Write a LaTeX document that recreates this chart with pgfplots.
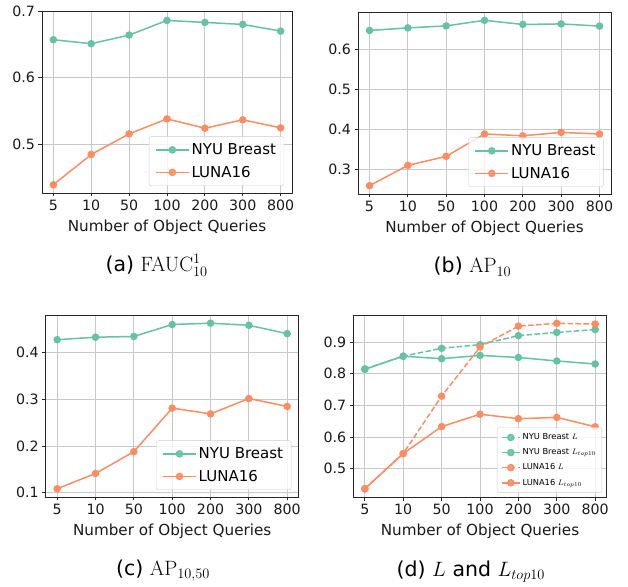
\documentclass[border=0pt]{standalone}
\usepackage[no-math]{fontspec}
\setmainfont{DejaVu Sans}
\usepackage{pgfplots}
\pgfplotsset{compat=1.18}
\definecolor{cg}{HTML}{66C2A5}
\definecolor{co}{HTML}{FC8D62}
\definecolor{gridgray}{HTML}{C8C8C8}
\pgfplotsset{
  panel/.style={
    scale only axis, height=182pt,
    xmin=-0.3, xmax=6.3,
    xtick={0,1,2,3,4,5,6},
    xticklabels={5,10,50,100,200,300,800},
    xtick pos=left, ytick pos=left,
    grid=major, grid style={color=gridgray, line width=0.8pt},
    axis line style={line width=0.8pt, color=black!85},
    tick style={line width=0.8pt, color=black!85},
    tick align=outside, major tick length=3.5pt,
    tick label style={font=\fontsize{14.2}{14.2}\selectfont, text=black!90},
    /pgf/number format/assume math mode=true,
    yticklabel style={/pgf/number format/fixed, /pgf/number format/precision=1},
    xlabel={Number of Object Queries},
    xlabel style={yshift=-2pt},
    label style={font=\fontsize{15.2}{15.2}\selectfont, text=black!90},
    every axis plot/.append style={line width=1.5pt, mark=*, mark size=3pt},
    legend cell align=left,
    legend image code/.code={\draw[mark repeat=2,mark phase=2,#1] plot coordinates {(0pt,0pt) (16.5pt,0pt) (33pt,0pt)};},
    legend style={anchor=south east, font=\fontsize{15}{15}\selectfont, outer sep=0pt,
      draw=black!20, rounded corners=2pt, fill=white, fill opacity=0.8, text opacity=1,
      inner xsep=6pt, inner ysep=5pt, row sep=6pt},
  },
}
\begin{document}
\begin{tikzpicture}
\path[use as bounding box] (0,0) rectangle (628pt,586pt);

% (a)
\begin{axis}[panel, width=250pt, at={(42pt,575pt)}, anchor=north west,
  ymin=0.4266, ymax=0.7002, ytick={0.5,0.6,0.7},
  legend style={at={(0.968,0.04)}}]
\addplot[color=cg, mark options={fill=cg}] coordinates {(0,0.657) (1,0.651) (2,0.664) (3,0.686) (4,0.683) (5,0.680) (6,0.670)};
\addplot[color=co, mark options={fill=co}] coordinates {(0,0.439) (1,0.4845) (2,0.5155) (3,0.538) (4,0.524) (5,0.5366) (6,0.5245)};
\legend{NYU Breast, LUNA16}
\end{axis}

% (b)
\begin{axis}[panel, width=253pt, at={(358pt,574pt)}, anchor=north west,
  ymin=0.237, ymax=0.695, ytick={0.3,0.4,0.5,0.6},
  legend style={at={(0.97,0.04)}}]
\addplot[color=cg, mark options={fill=cg}] coordinates {(0,0.6485) (1,0.655) (2,0.660) (3,0.674) (4,0.6636) (5,0.665) (6,0.6595)};
\addplot[color=co, mark options={fill=co}] coordinates {(0,0.258) (1,0.309) (2,0.3317) (3,0.388) (4,0.3835) (5,0.392) (6,0.388)};
\legend{NYU Breast, LUNA16}
\end{axis}

% (c)
\begin{axis}[panel, width=253pt, at={(45.7pt,271pt)}, anchor=north west,
  ymin=0.0909, ymax=0.481, ytick={0.1,0.2,0.3,0.4},
  legend style={at={(0.97,0.04)}}]
\addplot[color=cg, mark options={fill=cg}] coordinates {(0,0.428) (1,0.4334) (2,0.435) (3,0.4606) (4,0.4634) (5,0.459) (6,0.441)};
\addplot[color=co, mark options={fill=co}] coordinates {(0,0.1086) (1,0.1413) (2,0.188) (3,0.2814) (4,0.269) (5,0.302) (6,0.285)};
\legend{NYU Breast, LUNA16}
\end{axis}

% (d)
\begin{axis}[panel, width=253.4pt, at={(353.3pt,271pt)}, anchor=north west,
  ymin=0.411, ymax=0.985, ytick={0.5,0.6,0.7,0.8,0.9},
  legend image code/.code={\draw[mark repeat=2,mark phase=2,#1] plot coordinates {(0pt,0pt) (9pt,0pt) (18pt,0pt)};},
  legend style={at={(0.981,0.024)}, font=\fontsize{8.3}{8.3}\selectfont, row sep=3.5pt, inner xsep=4pt, inner ysep=4pt}]
\addplot[color=cg, mark options={fill=cg, solid}, dash pattern=on 5.5pt off 2.4pt] coordinates {(0,0.815) (1,0.855) (2,0.880) (3,0.8915) (4,0.920) (5,0.930) (6,0.939)};
\addplot[color=cg, mark options={fill=cg}] coordinates {(0,0.8136) (1,0.855) (2,0.8472) (3,0.8576) (4,0.851) (5,0.840) (6,0.8305)};
\addplot[color=co, mark options={fill=co, solid}, dash pattern=on 5.5pt off 2.4pt] coordinates {(0,0.437) (1,0.548) (2,0.729) (3,0.884) (4,0.950) (5,0.9586) (6,0.9565)};
\addplot[color=co, mark options={fill=co}] coordinates {(0,0.437) (1,0.548) (2,0.633) (3,0.672) (4,0.658) (5,0.662) (6,0.6325)};
\legend{NYU Breast $L$, NYU Breast $L_{top10}$, LUNA16 $L$, LUNA16 $L_{top10}$}
\end{axis}

% captions
\node[anchor=base, font=\fontsize{20.5}{20.5}\selectfont] at (156.7pt,314.3pt) {(a) $\mathrm{FAUC}_{10}^{1}$};
\node[anchor=base, font=\fontsize{20.5}{20.5}\selectfont] at (472.5pt,313pt) {(b) $\mathrm{AP}_{10}$};
\node[anchor=base, font=\fontsize{20.5}{20.5}\selectfont] at (163pt,11pt) {(c) $\mathrm{AP}_{10,50}$};
\node[anchor=base, font=\fontsize{20.5}{20.5}\selectfont] at (470.8pt,10pt) {(d) $L$ and $L_{top10}$};
\end{tikzpicture}
\end{document}
